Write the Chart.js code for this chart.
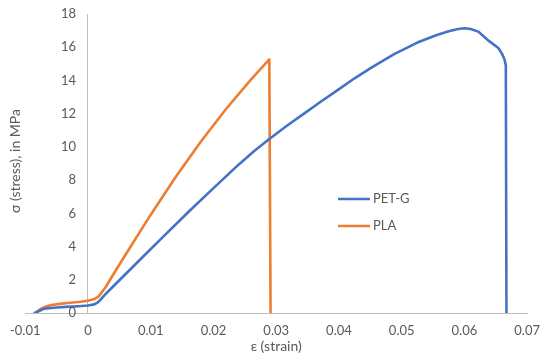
<!DOCTYPE html>
<html>
<head>
<meta charset="utf-8">
<script src="https://cdn.jsdelivr.net/npm/chart.js@4.4.1/dist/chart.umd.min.js"></script>
<style>
html,body{margin:0;padding:0;background:#fff;}
#wrap{width:550px;height:360px;position:relative;}
</style>
</head>
<body>
<div id="wrap"><canvas id="c" width="550" height="360"></canvas></div>
<script>
// Series names
const seriesNames = ["PET-G", "PLA"];
// PET-G strain / stress
const petgStrain = [-0.0085,-0.0078,-0.0072,-0.0066,-0.005,-0.0035,-0.0015,0,0.001,0.0015,0.002,0.003,0.005,0.008,0.012,0.016,0.020,0.024,0.0265,0.0288,0.0317,0.0346,0.0372,0.0399,0.0425,0.0451,0.0488,0.0525,0.0555,0.0575,0.059,0.060,0.061,0.0622,0.063,0.064,0.0654,0.0660,0.0664,0.0666,0.0667];
const petgStress = [0,0.12,0.22,0.28,0.33,0.37,0.41,0.45,0.52,0.62,0.80,1.22,1.97,3.10,4.60,6.08,7.52,8.93,9.75,10.44,11.27,12.05,12.75,13.45,14.13,14.76,15.58,16.28,16.72,16.96,17.10,17.14,17.10,16.94,16.68,16.35,15.95,15.60,15.25,14.90,0];
// PLA strain / stress
const plaStrain = [-0.0084,-0.0079,-0.0074,-0.0065,-0.0058,-0.0045,-0.0029,-0.0012,0,0.001,0.0017,0.0028,0.004,0.006,0.010,0.014,0.018,0.022,0.026,0.0289,0.0291];
const plaStress = [0,0.15,0.28,0.42,0.48,0.55,0.62,0.68,0.74,0.84,1.0,1.55,2.30,3.52,5.92,8.20,10.32,12.28,14.06,15.27,0];
// Axis ticks
const xTicks = [-0.01,0,0.01,0.02,0.03,0.04,0.05,0.06,0.07];
const yTicks = [0,2,4,6,8,10,12,14,16,18];

const colors = ["#4472C4", "#ED7D31"];
const txtColor = "#595959";
const axisColor = "#BFBFBF";
const fontFam = "Lato, 'Liberation Sans', sans-serif";

function toPts(xs, ys){ return xs.map((x,i)=>({x:x,y:ys[i]})); }

const overlay = {
  id: 'overlay',
  afterDraw(chart){
    const ctx = chart.ctx;
    const ys = chart.scales.y;
    const xs = chart.scales.x;
    // y tick labels, beside the axis crossing at x = 0
    ctx.save();
    ctx.fillStyle = txtColor;
    ctx.font = "13px " + fontFam;
    ctx.textAlign = "right";
    ctx.textBaseline = "middle";
    const ax = xs.getPixelForValue(0);
    yTicks.forEach(v => ctx.fillText(String(v), ax - 12, ys.getPixelForValue(v)));
    ctx.restore();
    // y axis title
    ctx.save();
    ctx.fillStyle = txtColor;
    ctx.font = "14px " + fontFam;
    ctx.textAlign = "center";
    ctx.textBaseline = "middle";
    ctx.translate(15, 161);
    ctx.rotate(-Math.PI/2);
    ctx.fillText("σ (stress), in MPa", 0, 0);
    ctx.restore();
    // legend
    ctx.save();
    ctx.font = "13px " + fontFam;
    ctx.textBaseline = "middle";
    ctx.textAlign = "left";
    const lx = 338, ly = [199, 226];
    seriesNames.forEach((n,i)=>{
      ctx.strokeStyle = colors[i];
      ctx.lineWidth = 2.5;
      ctx.beginPath(); ctx.moveTo(lx, ly[i]); ctx.lineTo(lx+32, ly[i]); ctx.stroke();
      ctx.fillStyle = txtColor;
      ctx.fillText(n, lx+35, ly[i]);
    });
    ctx.restore();
  }
};

new Chart(document.getElementById('c'), {
  type: 'scatter',
  data: {
    datasets: [
      {label: seriesNames[0], data: toPts(petgStrain, petgStress), showLine: true, borderColor: colors[0], backgroundColor: colors[0], borderWidth: 2.6, pointRadius: 0, tension: 0, borderJoinStyle: 'round', borderCapStyle: 'round'},
      {label: seriesNames[1], data: toPts(plaStrain, plaStress), showLine: true, borderColor: colors[1], backgroundColor: colors[1], borderWidth: 2.6, pointRadius: 0, tension: 0, borderJoinStyle: 'round', borderCapStyle: 'round'}
    ]
  },
  options: {
    responsive: false,
    animation: false,
    layout: {padding: {left: 23.5, right: 18.5, top: 14, bottom: 0}},
    plugins: {legend: {display: false}, tooltip: {enabled: false}},
    scales: {
      x: {
        type: 'linear', position: 'bottom',
        min: xTicks[0], max: xTicks[xTicks.length-1],
        afterBuildTicks: s => { s.ticks = xTicks.map(v=>({value:v})); },
        afterFit: s => { s.height = 47; },
        grid: {display: false, drawTicks: false},
        border: {display: true, color: axisColor, width: 1},
        ticks: {color: txtColor, font: {family: fontFam, size: 13}, padding: 10, maxRotation: 0,
          callback: v => String(Number(v.toFixed(2)))},
        title: {display: true, text: "ε (strain)", color: txtColor, font: {family: fontFam, size: 14}, padding: {top: 0, bottom: 5}}
      },
      y: {
        type: 'linear', position: {x: 0},
        min: yTicks[0], max: yTicks[yTicks.length-1],
        afterBuildTicks: s => { s.ticks = yTicks.map(v=>({value:v})); },
        grid: {display: false, drawTicks: false},
        border: {display: true, color: axisColor, width: 1},
        ticks: {display: false}
      }
    }
  },
  plugins: [overlay]
});
</script>
</body>
</html>
